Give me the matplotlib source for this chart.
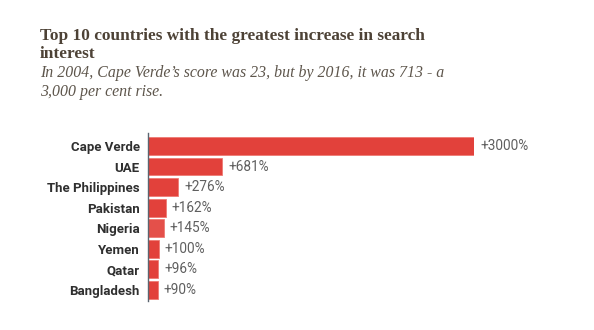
import matplotlib.pyplot as plt

countries = ["Cape Verde", "UAE", "The Philippines", "Pakistan",
             "Nigeria", "Yemen", "Qatar", "Bangladesh"]
increase = [3000, 681, 276, 162, 145, 100, 96, 90]

W, H = 594, 330
fig = plt.figure(figsize=(W / 100, H / 100), dpi=100)
fig.patch.set_facecolor("white")

# heading block
title_col = "#4d4236"
sub_col = "#5e564c"
fig.text(40 / W, 1 - 40 / H, "Top 10 countries with the greatest increase in search",
         fontsize=12.4, fontweight="bold", family="Liberation Serif", color=title_col)
fig.text(40 / W, 1 - 58 / H, "interest",
         fontsize=12.4, fontweight="bold", family="Liberation Serif", color=title_col)
fig.text(40 / W, 1 - 77 / H, "In 2004, Cape Verde\u2019s score was 23, but by 2016, it was 713 - a",
         fontsize=11.4, style="italic", family="Liberation Serif", color=sub_col)
fig.text(40 / W, 1 - 96 / H, "3,000 per cent rise.",
         fontsize=11.4, style="italic", family="Liberation Serif", color=sub_col)

# bar area
ax = fig.add_axes([148 / W, 1 - 301 / H, (474 - 148) / W, 168 / H])
ypos = list(range(len(countries)))
bars = ax.barh(ypos, increase, height=0.87, color="#e2413b",
               edgecolor="#ee7a74", linewidth=0.6)
bars[4].set_facecolor("#e4504a")

ax.set_xlim(0, 3000)
ax.set_ylim(7.535, -0.63)

for y, v in zip(ypos, increase):
    ax.text(v + 55, y, "+%d%%" % v, va="center", ha="left",
            fontsize=9.8, color="#5f5f5f", family="Roboto")

ax.set_yticks(ypos)
ax.set_yticklabels(countries, fontsize=9.5, color="#2f2f2f",
                   family="Roboto", fontweight="semibold")
ax.tick_params(axis="y", length=0, pad=6)
ax.set_xticks([])

for s in ["top", "right", "bottom"]:
    ax.spines[s].set_visible(False)
ax.spines["left"].set_color("#5b6570")
ax.spines["left"].set_linewidth(1.0)

fig.savefig("out.png", dpi=100)
